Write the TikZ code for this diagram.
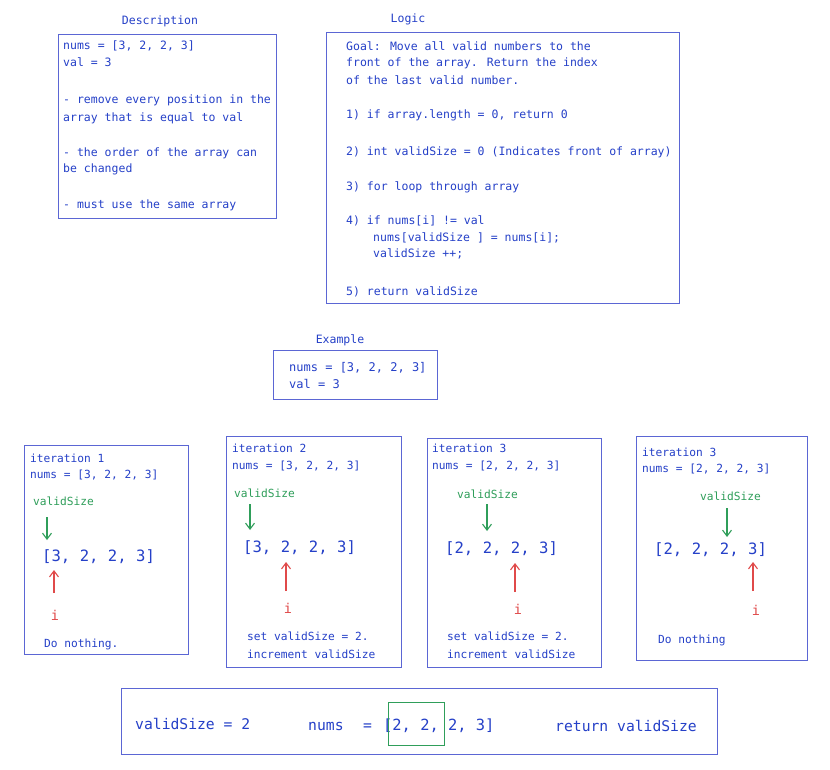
\documentclass[tikz,border=0pt]{standalone}
\usepackage{fontspec}
\setmainfont{DejaVu Sans Mono}
\usetikzlibrary{arrows.meta}
\definecolor{ink}{HTML}{2540C8}
\definecolor{framec}{HTML}{5B66D4}
\definecolor{vgreen}{HTML}{2F9E5A}
\definecolor{vred}{HTML}{E04A4A}
\begin{document}
\begin{tikzpicture}[x=1pt,y=-1pt,
  frame/.style={draw=framec, line width=1.2pt, inner sep=0pt, anchor=north west},
  gframe/.style={draw=vgreen, line width=1.1pt, inner sep=0pt, anchor=north west},
  txt/.style={anchor=base west, inner sep=0pt, text=ink, font=\fontsize{11.5}{13}\selectfont},
  ttl/.style={anchor=base, inner sep=0pt, text=ink, font=\fontsize{11.5}{13}\selectfont},
  small/.style={anchor=base west, inner sep=0pt, text=ink, font=\fontsize{11.2}{13}\selectfont},
  gtxt/.style={anchor=base west, inner sep=0pt, text=vgreen, font=\fontsize{11.2}{13}\selectfont},
  itxt/.style={anchor=center, inner sep=0pt, text=vred, font=\fontsize{13.5}{15}\selectfont},
  big/.style={anchor=base west, inner sep=0pt, text=ink, font=\fontsize{15.6}{18}\selectfont},
  bot/.style={anchor=base west, inner sep=0pt, text=ink, font=\fontsize{14.7}{17}\selectfont},
  garrow/.style={draw=vgreen, line width=1.1pt, -{Straight Barb[length=6pt,width=9pt]}},
  rarrow/.style={draw=vred, line width=1.1pt, -{Straight Barb[length=6pt,width=9pt]}},
]
\useasboundingbox[fill=white] (0,0) rectangle (830,770);

% ---------- Description ----------
\node[ttl] (dtitle) at (160,25) {Description};
\node[frame, minimum width=218pt, minimum height=184pt] (dbox) at (58,34) {};
\node[txt] (d1) at (63,50) {nums = [3, 2, 2, 3]};
\node[txt] (d2) at (63,67) {val = 3};
\node[txt] (d3) at (63,104) {- remove every position in the};
\node[txt] (d4) at (63,122) {array that is equal to val};
\node[txt] (d5) at (63,157) {- the order of the array can};
\node[txt] (d6) at (63,173) {be changed};
\node[txt] (d7) at (63,209) {- must use the same array};

% ---------- Logic ----------
\node[ttl] (ltitle) at (408,23) {Logic};
\node[frame, minimum width=353pt, minimum height=271pt] (lbox) at (326,32) {};
\node[txt] (l1) at (346,51) {Goal: Move all valid numbers to the};
\node[txt] (l2) at (346,67) {front of the array. Return the index};
\node[txt] (l3) at (346,85) {of the last valid number.};
\node[txt] (l4) at (346,119) {1) if array.length = 0, return 0};
\node[txt] (l5) at (346,156) {2) int validSize = 0 (Indicates front of array)};
\node[txt] (l6) at (346,191) {3) for loop through array};
\node[txt] (l7) at (346,225) {4) if nums[i] != val};
\node[txt] (l8) at (373,242) {nums[validSize ] = nums[i];};
\node[txt] (l9) at (373,258) {validSize ++;};
\node[txt] (l10) at (346,295) {5) return validSize};

% ---------- Example ----------
\node[ttl] (etitle) at (340,343) {Example};
\node[frame, minimum width=164pt, minimum height=49pt] (ebox) at (273,350) {};
\node[txt, font=\fontsize{12}{14}\selectfont] (e1) at (289,371) {nums = [3, 2, 2, 3]};
\node[txt, font=\fontsize{12}{14}\selectfont] (e2) at (289,388) {val = 3};

% ---------- Iteration 1 ----------
\node[frame, minimum width=164pt, minimum height=209pt] (b1) at (24,445) {};
\node[small] (a1t) at (30,462) {iteration 1};
\node[small] (a1n) at (30,478) {nums = [3, 2, 2, 3]};
\node[gtxt] (a1v) at (33,505) {validSize};
\coordinate (g1s) at (47,517);
\coordinate (g1e) at (47,540);
\draw[garrow] (g1s) -- (g1e);
\node[big] (a1a) at (42,561) {[3, 2, 2, 3]};
\coordinate (r1s) at (54,593);
\coordinate (r1e) at (54,570);
\draw[rarrow] (r1s) -- (r1e);
\node[itxt] (a1i) at (55,615) {i};
\node[small] (a1d) at (44,647) {Do nothing.};

% ---------- Iteration 2 ----------
\node[frame, minimum width=175pt, minimum height=231pt] (b2) at (226,436) {};
\node[small] (a2t) at (232,452) {iteration 2};
\node[small] (a2n) at (232,469) {nums = [3, 2, 2, 3]};
\node[gtxt] (a2v) at (234,497) {validSize};
\coordinate (g2s) at (250,504);
\coordinate (g2e) at (250,530);
\draw[garrow] (g2s) -- (g2e);
\node[big] (a2a) at (243,552) {[3, 2, 2, 3]};
\coordinate (r2s) at (286,591);
\coordinate (r2e) at (286,562);
\draw[rarrow] (r2s) -- (r2e);
\node[itxt] (a2i) at (288,608) {i};
\node[small] (a2d1) at (247,640) {set validSize = 2.};
\node[small] (a2d2) at (247,658) {increment validSize};

% ---------- Iteration 3 ----------
\node[frame, minimum width=174pt, minimum height=229pt] (b3) at (427,438) {};
\node[small] (a3t) at (432,452) {iteration 3};
\node[small] (a3n) at (432,469) {nums = [2, 2, 2, 3]};
\node[gtxt] (a3v) at (457,498) {validSize};
\coordinate (g3s) at (487,504);
\coordinate (g3e) at (487,531);
\draw[garrow] (g3s) -- (g3e);
\node[big] (a3a) at (445,553) {[2, 2, 2, 3]};
\coordinate (r3s) at (515,592);
\coordinate (r3e) at (515,563);
\draw[rarrow] (r3s) -- (r3e);
\node[itxt] (a3i) at (518,609) {i};
\node[small] (a3d1) at (447,640) {set validSize = 2.};
\node[small] (a3d2) at (447,658) {increment validSize};

% ---------- Iteration 3 (second) ----------
\node[frame, minimum width=171pt, minimum height=224pt] (b4) at (636,436) {};
\node[small] (a4t) at (642,456) {iteration 3};
\node[small] (a4n) at (642,472) {nums = [2, 2, 2, 3]};
\node[gtxt] (a4v) at (700,500) {validSize};
\coordinate (g4s) at (727,508);
\coordinate (g4e) at (727,537);
\draw[garrow] (g4s) -- (g4e);
\node[big] (a4a) at (654,554) {[2, 2, 2, 3]};
\coordinate (r4s) at (753,591);
\coordinate (r4e) at (753,562);
\draw[rarrow] (r4s) -- (r4e);
\node[itxt] (a4i) at (756,610) {i};
\node[small] (a4d) at (658,643) {Do nothing};

% ---------- Result ----------
\node[frame, minimum width=596pt, minimum height=66pt] (rbox) at (121,688) {};
\node[bot] (rv) at (135,729) {validSize = 2};
\node[bot] (rn) at (308,730) {nums};
\node[bot] (req) at (363,730) {=};
\node[bot, font=\fontsize{15.4}{18}\selectfont] (ra) at (383,730) {[2, 2, 2, 3]};
\node[gframe, minimum width=56pt, minimum height=43pt] (rg) at (388,702) {};
\node[bot] (rr) at (555,731) {return validSize};
\end{tikzpicture}
\end{document}
